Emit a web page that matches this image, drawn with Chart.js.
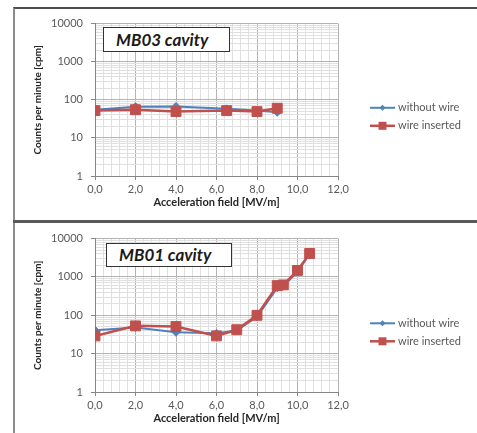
<!DOCTYPE html>
<html>
<head>
<meta charset="utf-8">
<script src="https://cdn.jsdelivr.net/npm/chart.js"></script>
<style>
  body { margin: 0; width: 477px; height: 433px; overflow: hidden; background: #fff; position: relative; font-family: Lato, "Open Sans", sans-serif; }
  .panel { position: absolute; left: 13px; width: 464px; border-left: 2px solid #8c8c8c; box-sizing: border-box; }
  #panelTop { top: 7px; height: 213px; border-top: 2px solid #4d4d4d; }
  #panelBottom { top: 223px; height: 210px; }
  #sep { position: absolute; left: 13px; width: 464px; top: 220px; height: 3px; background: #595959; }
  canvas { position: absolute; }
  .tag { position: absolute; border: 1px solid #333; background: #fff; font: italic bold 17px Lato, sans-serif; color: #1a1a1a; box-sizing: border-box; padding-left: 12px; }
</style>
</head>
<body>
<div class="panel" id="panelTop"></div>
<div id="sep"></div>
<div class="panel" id="panelBottom"></div>

<canvas id="chartTop" width="461" height="210" style="left:16px; top:9px;"></canvas>
<canvas id="chartBottom" width="461" height="209" style="left:16px; top:224px;"></canvas>

<div class="tag" style="left:103px; top:27px; width:127px; height:25px; line-height:23px;">MB03 cavity</div>
<div class="tag" style="left:106px; top:243px; width:126px; height:24px; line-height:22px;">MB01 cavity</div>

<script>
// series names
const seriesNames = ['without wire', 'wire inserted'];

// MB03 cavity (top panel)
const mb03Field = [0, 2, 4, 6.5, 8, 9];
const mb03Without = [55, 66, 67, 58, 52, 47];
const mb03Inserted = [52, 55, 49, 52, 49, 60];

// MB01 cavity (bottom panel)
const mb01Field = [0, 2, 4, 6, 7, 8, 9, 9.3, 10, 10.6];
const mb01Without = [41, 48, 36, 34, 40, 92, 520, 580, 1350, 4000];
const mb01Inserted = [29, 53, 51, 29, 42, 100, 595, 620, 1480, 4100];

// axis ticks
const xMajorTicks = [0, 2, 4, 6, 8, 10, 12];
const xMinorStep = 0.4;
const yDecades = [1, 10, 100, 1000, 10000];

const blue = '#4F81BD';
const red = '#C0504D';
const tickColor = '#595959';
const fontName = 'Lato, "Open Sans", sans-serif';

function toPoints(xs, ys) {
    return xs.map(function(x, i) {
        return { x: x, y: ys[i] };
    });
}

function isMajorX(v) {
    return Math.round(v * 10) % 20 === 0;
}

function isDecade(v) {
    return yDecades.indexOf(v) !== -1;
}

// legend drawn next to the plot, Excel style: line with marker in the middle
const sideLegend = {
    id: 'sideLegend',
    afterDraw: function(chart) {
        const ctx = chart.ctx;
        const area = chart.chartArea;
        const cy = (area.top + area.bottom) / 2 + 17;

        chart.data.datasets.forEach(function(ds, i) {
            const y = cy - 9 + 18 * i;
            const x0 = area.right + 32;
            const xm = x0 + 12.5;

            ctx.save();
            ctx.strokeStyle = ds.borderColor;
            ctx.lineWidth = ds.borderWidth;
            ctx.beginPath();
            ctx.moveTo(x0, y);
            ctx.lineTo(x0 + 25, y);
            ctx.stroke();

            ctx.fillStyle = ds.borderColor;
            ctx.beginPath();
            if (ds.pointStyle === 'rect') {
                ctx.rect(xm - 4, y - 4, 8, 8);
            } else {
                ctx.moveTo(xm, y - 3);
                ctx.lineTo(xm + 3, y);
                ctx.lineTo(xm, y + 3);
                ctx.lineTo(xm - 3, y);
                ctx.closePath();
            }
            ctx.fill();

            ctx.fillStyle = tickColor;
            ctx.font = '11px ' + fontName;
            ctx.textAlign = 'left';
            ctx.textBaseline = 'middle';
            ctx.fillText(ds.label, x0 + 28, y);
            ctx.restore();
        });
    }
};

function buildChart(canvasId, xs, without, inserted, xAxisHeight, xTitlePad) {
    const ctx = document.getElementById(canvasId).getContext('2d');

    return new Chart(ctx, {
        type: 'line',
        data: {
            datasets: [{
                label: seriesNames[0],
                data: toPoints(xs, without),
                borderColor: blue,
                backgroundColor: blue,
                borderWidth: 2,
                pointStyle: 'rectRot',
                pointRadius: 4,
                pointBorderWidth: 1,
                tension: 0,
                order: 2
            }, {
                label: seriesNames[1],
                data: toPoints(xs, inserted),
                borderColor: red,
                backgroundColor: red,
                borderWidth: 2.5,
                pointStyle: 'rect',
                pointRadius: 7,
                pointBorderWidth: 1,
                tension: 0,
                order: 1
            }]
        },
        options: {
            responsive: false,
            animation: false,
            events: [],
            layout: {
                padding: { top: 9, right: 139, left: 0, bottom: 0 }
            },
            plugins: {
                legend: { display: false },
                tooltip: { enabled: false }
            },
            scales: {
                x: {
                    type: 'linear',
                    min: 0,
                    max: 12,
                    afterBuildTicks: function(scale) {
                        const ticks = [];
                        const last = xMajorTicks[xMajorTicks.length - 1];
                        for (let k = 0; k * xMinorStep <= last + 1e-6; k++) {
                            ticks.push({ value: Math.round(k * xMinorStep * 10) / 10 });
                        }
                        scale.ticks = ticks;
                    },
                    afterFit: function(scale) {
                        scale.height = xAxisHeight;
                    },
                    ticks: {
                        autoSkip: false,
                        maxRotation: 0,
                        padding: 3,
                        color: tickColor,
                        font: { family: fontName, size: 11 },
                        callback: function(value) {
                            return isMajorX(value) ? value.toFixed(1).replace('.', ',') : '';
                        }
                    },
                    grid: {
                        tickLength: 4,
                        color: function(c) {
                            return isMajorX(c.tick.value) ? '#b3b3b3' : '#e0e0e0';
                        },
                        tickColor: function(c) {
                            return isMajorX(c.tick.value) ? '#868686' : 'rgba(0,0,0,0)';
                        }
                    },
                    border: { color: '#868686' },
                    title: {
                        display: true,
                        text: 'Acceleration field [MV/m]',
                        color: '#262626',
                        font: { family: fontName, size: 11, weight: 'bold' },
                        padding: { top: 0, bottom: xTitlePad }
                    }
                },
                y: {
                    type: 'logarithmic',
                    min: 1,
                    max: 10000,
                    afterBuildTicks: function(scale) {
                        const ticks = [];
                        yDecades.forEach(function(d, i) {
                            if (i === yDecades.length - 1) {
                                ticks.push({ value: d });
                                return;
                            }
                            for (let m = 1; m <= 9; m++) {
                                ticks.push({ value: m * d });
                            }
                        });
                        scale.ticks = ticks;
                    },
                    afterFit: function(scale) {
                        scale.width = 79;
                    },
                    ticks: {
                        autoSkip: false,
                        padding: 8,
                        color: tickColor,
                        font: { family: fontName, size: 11 },
                        callback: function(value) {
                            return isDecade(value) ? String(value) : '';
                        }
                    },
                    grid: {
                        tickLength: 4,
                        color: function(c) {
                            return isDecade(c.tick.value) ? '#b3b3b3' : '#e0e0e0';
                        },
                        tickColor: function(c) {
                            return isDecade(c.tick.value) ? '#868686' : 'rgba(0,0,0,0)';
                        }
                    },
                    border: { color: '#868686' },
                    title: {
                        display: true,
                        text: 'Counts per minute [cpm]',
                        color: '#262626',
                        font: { family: fontName, size: 10, weight: 'bold' },
                        padding: { top: 16, bottom: 0 }
                    }
                }
            }
        },
        plugins: [sideLegend]
    });
}

buildChart('chartTop', mb03Field, mb03Without, mb03Inserted, 43, 10);
buildChart('chartBottom', mb01Field, mb01Without, mb01Inserted, 41, 8);
</script>
</body>
</html>
